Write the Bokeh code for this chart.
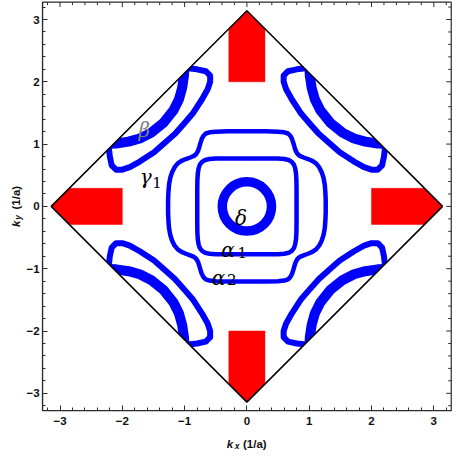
import numpy as np
from bokeh.plotting import figure
from bokeh.models import Range1d, LinearAxis, FixedTicker
from bokeh.core.properties import value
from bokeh.embed import file_html
from bokeh.resources import INLINE

PI = float(np.pi)

# Brillouin-zone boundary (diamond)
bz_x = [PI, 0.0, -PI, 0.0, PI]
bz_y = [0.0, PI, 0.0, -PI, 0.0]

# red patches at the zone corners
red_half_width = 0.29
red_inner_edge = 2.0

# delta pocket (ring) centre and radius
delta_kx = [0.0]
delta_ky = [0.0]
delta_r = 0.395

# alpha pockets, quadrant kx>=0, ky>=0 (from the ky axis to the kx axis)
alpha1_kx = [0.00, 0.30, 0.50, 0.60, 0.67, 0.72, 0.755, 0.775, 0.788, 0.795, 0.797, 0.797]
alpha1_ky = [0.77, 0.77, 0.767, 0.76, 0.745, 0.715, 0.67, 0.61, 0.53, 0.42, 0.25, 0.00]

alpha2_kx = [0.00, 0.30, 0.50, 0.60, 0.66, 0.70, 0.725, 0.745, 0.765, 0.785, 0.81, 0.85, 0.91, 0.98,
             1.05, 1.11, 1.16, 1.20, 1.23, 1.25, 1.26, 1.265, 1.265]
alpha2_ky = [1.205, 1.205, 1.20, 1.19, 1.17, 1.13, 1.08, 1.02, 0.95, 0.89, 0.845, 0.81, 0.785, 0.76,
             0.73, 0.69, 0.63, 0.55, 0.46, 0.35, 0.22, 0.10, 0.00]

# gamma1 and beta pockets near (pi/2, pi/2)
gamma1_kx = [0.98, 0.80, 0.66, 0.59, 0.59, 0.63, 0.72, 0.87, 1.00, 1.16, 1.34, 1.49, 1.72, 1.88, 2.00, 2.10, 2.17, 2.20, 2.22]
gamma1_ky = [2.22, 2.20, 2.17, 2.10, 2.00, 1.88, 1.72, 1.49, 1.34, 1.16, 1.00, 0.87, 0.72, 0.63, 0.59, 0.59, 0.66, 0.80, 0.98]

beta_kx = [1.00, 1.01, 1.04, 1.09, 1.18, 1.34, 1.54, 1.72, 1.90, 2.10, 2.30]
beta_ky = [2.30, 2.10, 1.90, 1.72, 1.54, 1.34, 1.18, 1.09, 1.04, 1.01, 1.00]

# pocket labels
greek_text = ["\u03b2", "\u03b3", "\u03b1", "\u03b1", "\u03b4"]
greek_kx = [-1.74, -1.72, -0.41, -0.565, -0.19]
greek_ky = [1.22, 0.47, -0.695, -1.145, -0.187]
greek_color = ["#808080", "#000000", "#000000", "#000000", "#000000"]
sub_text = ["1", "1", "2"]
sub_kx = [-1.52, -0.15, -0.32]
sub_ky = [0.39, -0.746, -1.17]

# axis titles
xtitle_text = ["k", "x", "(1/a)"]
xtitle_kx = [-0.322, -0.195, -0.062]
ytitle_text = ["k", "y", "(1/a)"]
ytitle_ky = [-0.33, -0.215, -0.05]

major_ticks = [-3, -2, -1, 0, 1, 2, 3]
minor_ticks = [round(-3.2 + 0.2 * i, 1) for i in range(33)]
tick_labels = {t: ("\u2212" + str(-t) if t < 0 else str(t)) for t in major_ticks}

BOX = 3.28          # plotted k-range (both axes)

# ---- page geometry ----
FIG_W, FIG_H = 453, 450
SCALE = 62.3        # px per 1/a
OX, OY = 246.4, 205.9   # canvas position of k = (0, 0)
MAJ_LEN, MIN_LEN = 5, 3

frame_color = "#2b2b2b"
blue = "#0000ff"
text_color = "#111111"


def full_loop(qx, qy):
    qx = list(qx); qy = list(qy)
    xs = qx + qx[::-1] + [-v for v in qx] + [-v for v in qx[::-1]]
    ys = qy + [-v for v in qy[::-1]] + [-v for v in qy] + qy[::-1]
    return xs + [xs[0]], ys + [ys[0]]


def four_pockets(qx, qy):
    xs, ys = [], []
    for sx in (1, -1):
        for sy in (1, -1):
            xs.append([sx * v for v in qx])
            ys.append([sy * v for v in qy])
    return xs, ys


p = figure(width=FIG_W, height=FIG_H,
           x_range=Range1d(-OX / SCALE, (FIG_W - OX) / SCALE),
           y_range=Range1d(-(FIG_H - OY) / SCALE, OY / SCALE),
           x_axis_type=None, y_axis_type=None,
           output_backend="svg", toolbar_location=None,
           min_border_left=0, min_border_right=0, min_border_top=0, min_border_bottom=0,
           background_fill_color="white", border_fill_color="white")
p.grid.visible = False
p.outline_line_color = None

ticker = FixedTicker(ticks=major_ticks, minor_ticks=minor_ticks)


def make_axis(standoff):
    ax = LinearAxis(ticker=ticker, fixed_location=-BOX, bounds=(-BOX, BOX))
    ax.axis_line_color = frame_color
    ax.axis_line_width = 1.2
    ax.major_tick_line_color = frame_color
    ax.minor_tick_line_color = frame_color
    ax.major_tick_in = MAJ_LEN
    ax.major_tick_out = 0
    ax.minor_tick_in = MIN_LEN
    ax.minor_tick_out = 0
    ax.major_label_overrides = tick_labels
    ax.major_label_text_font = "Liberation Sans"
    ax.major_label_text_font_style = "bold"
    ax.major_label_text_font_size = "11.5px"
    ax.major_label_text_color = text_color
    ax.major_label_standoff = standoff
    return ax


p.add_layout(make_axis(6), "below")
p.add_layout(make_axis(3), "left")

# red corner regions
h = red_half_width
r = red_inner_edge
red_xs = [
    [-h, h, h, 0.0, -h],
    [-h, h, h, 0.0, -h],
    [r, PI - h, PI, PI - h, r],
    [-r, -(PI - h), -PI, -(PI - h), -r],
]
red_ys = [
    [r, r, PI - h, PI, PI - h],
    [-r, -r, -(PI - h), -PI, -(PI - h)],
    [h, h, 0.0, -h, -h],
    [h, h, 0.0, -h, -h],
]
p.patches(red_xs, red_ys, fill_color="#ff0000", line_color="#ff0000", line_width=0.5)

# alpha pockets
a1x, a1y = full_loop(alpha1_kx, alpha1_ky)
a2x, a2y = full_loop(alpha2_kx, alpha2_ky)
p.line(a1x, a1y, line_color=blue, line_width=4.5, line_join="round")
p.line(a2x, a2y, line_color=blue, line_width=4.5, line_join="round")

# delta ring
p.circle(x=delta_kx, y=delta_ky, radius=delta_r, fill_color=None, line_color=blue, line_width=9.5)

# gamma1 and beta pockets
gx, gy = four_pockets(gamma1_kx, gamma1_ky)
p.multi_line(gx, gy, line_color=blue, line_width=6, line_join="round")
bx, by = four_pockets(beta_kx, beta_ky)
p.multi_line(bx, by, line_color=blue, line_width=10, line_join="round")

# white mask outside the zone boundary (inside the plot box)
p.multi_polygons(xs=[[[[-BOX, BOX, BOX, -BOX], bz_x[:-1]]]],
                 ys=[[[[-BOX, -BOX, BOX, BOX], bz_y[:-1]]]],
                 fill_color="white", line_color=None)

# zone boundary
p.line(bz_x, bz_y, line_color="black", line_width=1.5)

# plot box with top and right ticks
p.quad(left=[-BOX], right=[BOX], bottom=[-BOX], top=[BOX], fill_color=None,
       line_color=frame_color, line_width=1.2)
maj_d = MAJ_LEN / SCALE
min_d = MIN_LEN / SCALE
minor_only = [t for t in minor_ticks if t not in major_ticks]
p.segment(x0=major_ticks, x1=major_ticks, y0=[BOX] * len(major_ticks), y1=[BOX - maj_d] * len(major_ticks),
          line_color=frame_color, line_width=1)
p.segment(x0=minor_only, x1=minor_only, y0=[BOX] * len(minor_only), y1=[BOX - min_d] * len(minor_only),
          line_color=frame_color, line_width=1)
p.segment(y0=major_ticks, y1=major_ticks, x0=[BOX] * len(major_ticks), x1=[BOX - maj_d] * len(major_ticks),
          line_color=frame_color, line_width=1)
p.segment(y0=minor_only, y1=minor_only, x0=[BOX] * len(minor_only), x1=[BOX - min_d] * len(minor_only),
          line_color=frame_color, line_width=1)

# pocket labels
p.text(x=greek_kx, y=greek_ky, text=greek_text, text_color=greek_color,
       text_font=value("DejaVu Serif"), text_font_style="italic", text_font_size="20px",
       text_align="left", text_baseline="alphabetic")
p.text(x=sub_kx, y=sub_ky, text=sub_text, text_color="#000000",
       text_font=value("DejaVu Serif"), text_font_size="15px",
       text_align="left", text_baseline="alphabetic")

# axis titles (outside the plot box, inside the canvas)
xb = -BOX - 33.0 / SCALE
p.text(x=xtitle_kx, y=[xb, xb - 2.5 / SCALE, xb], text=xtitle_text, text_color=text_color,
       text_font=value("Liberation Sans"), text_font_style=["bold italic", "bold italic", "bold"],
       text_font_size=["11.5px", "8.5px", "11.5px"], text_align="left", text_baseline="alphabetic")
yb = -BOX - 27.0 / SCALE
p.text(x=[yb, yb + 2.0 / SCALE, yb], y=ytitle_ky, text=ytitle_text, text_color=text_color,
       angle=PI / 2,
       text_font=value("Liberation Sans"), text_font_style=["bold italic", "bold italic", "bold"],
       text_font_size=["11.5px", "8.5px", "11.5px"], text_align="left", text_baseline="alphabetic")

open("out.html", "w").write(file_html(p, INLINE))
